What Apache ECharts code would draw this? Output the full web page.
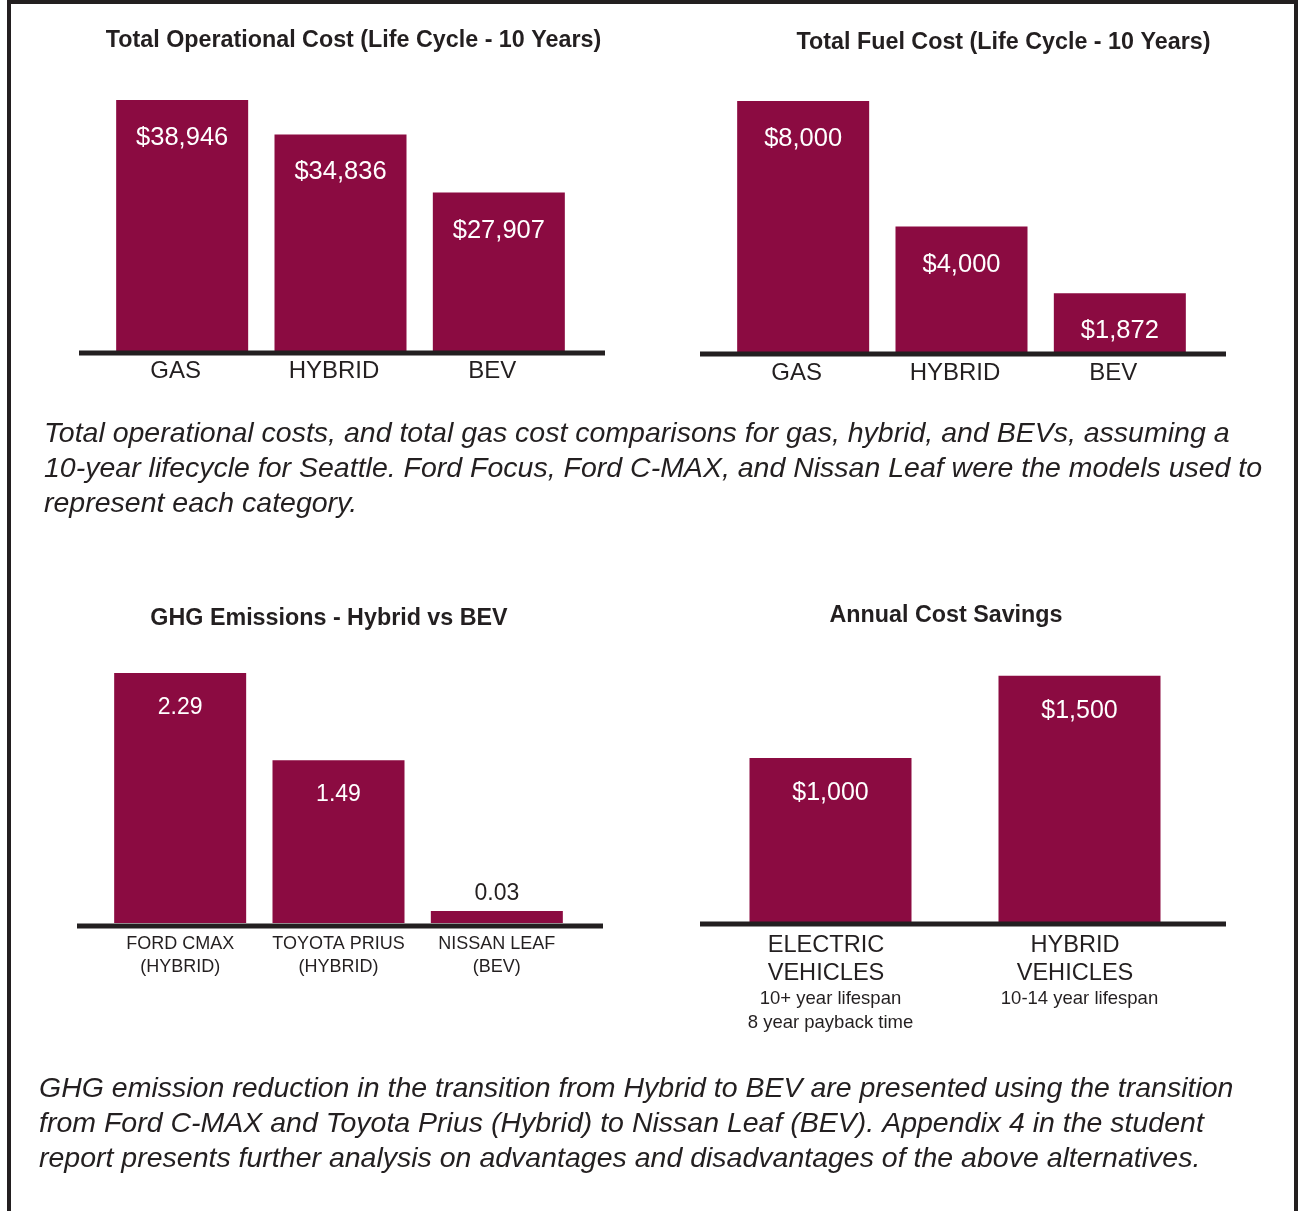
<!DOCTYPE html>
<html>
<head>
<meta charset="utf-8">
<script src="https://cdn.jsdelivr.net/npm/echarts@6/dist/echarts.min.js"></script>
<style>
html,body{margin:0;padding:0;background:#fff;}
#main{width:1299px;height:1211px;}
</style>
</head>
<body>
<div id="main"></div>
<script>
// ---- data ----
const opCategories = ['GAS', 'HYBRID', 'BEV'];
const opValues = [38946, 34836, 27907];

const fuelCategories = ['GAS', 'HYBRID', 'BEV'];
const fuelValues = [8000, 4000, 1872];

const ghgCategories = ['FORD CMAX\n(HYBRID)', 'TOYOTA PRIUS\n(HYBRID)', 'NISSAN LEAF\n(BEV)'];
const ghgValues = [2.29, 1.49, 0.03];

const savingsCategories = ['ELECTRIC\nVEHICLES', 'HYBRID\nVEHICLES'];
const savingsNotes = ['10+ year lifespan\n8 year payback time', '10-14 year lifespan'];
const savingsValues = [1000, 1500];

const titles = [
  'Total Operational Cost (Life Cycle - 10 Years)',
  'Total Fuel Cost (Life Cycle - 10 Years)',
  'GHG Emissions - Hybrid vs BEV',
  'Annual Cost Savings'
];
const caption1 = [
  'Total operational costs, and total gas cost comparisons for gas, hybrid, and BEVs, assuming a',
  '10-year lifecycle for Seattle. Ford Focus, Ford C-MAX, and Nissan Leaf were the models used to',
  'represent each category.'
];
const caption2 = [
  'GHG emission reduction in the transition from Hybrid to BEV are presented using the transition',
  'from Ford C-MAX and Toyota Prius (Hybrid) to Nissan Leaf (BEV). Appendix 4 in the student',
  'report presents further analysis on advantages and disadvantages of the above alternatives.'
];

// ---- style ----
const BAR = '#8b0b41';
const INK = '#231f20';
const FONT = 'Liberation Sans, Arial, Helvetica, sans-serif';

function fmtMoney(v) { return '$' + v.toLocaleString('en-US'); }

const chart = echarts.init(document.getElementById('main'), null, {renderer: 'canvas'});

function titleItem(text, x, y) {
  return {
    text: text, left: x, top: y, padding: 0,
    textAlign: 'center', textVerticalAlign: 'middle',
    textStyle: {fontFamily: FONT, fontWeight: 'bold', fontSize: 23.3, color: INK}
  };
}
function captionItem(lines, x, y) {
  return {
    text: lines.join('\n'), left: x, top: y, padding: 0,
    textAlign: 'left', textVerticalAlign: 'top',
    textStyle: {fontFamily: FONT, fontStyle: 'italic', fontWeight: 'normal', fontSize: 28.5, lineHeight: 35.3, color: INK}
  };
}

function xAxisFor(gridIndex, data, labelExtra) {
  return Object.assign({
    type: 'category', gridIndex: gridIndex, data: data,
    axisLine: {show: false}, axisTick: {show: false}, splitLine: {show: false}
  }, labelExtra);
}
function yAxisFor(gridIndex, min, max) {
  return {type: 'value', gridIndex: gridIndex, min: min, max: max, show: false, splitLine: {show: false}};
}

const option = {
  backgroundColor: '#fff',
  animation: false,
  title: [
    titleItem(titles[0], 353.5, 41),
    titleItem(titles[1], 1003.5, 43),
    titleItem(titles[2], 329, 619),
    titleItem(titles[3], 946, 616),
    captionItem(caption1, 44, 416),
    captionItem(caption2, 39, 1071)
  ],
  grid: [
    {left: 103, top: 80, width: 475, height: 271},
    {left: 724, top: 79, width: 475, height: 273},
    {left: 101, top: 650, width: 475, height: 273},
    {left: 706, top: 643, width: 498, height: 279}
  ],
  xAxis: [
    xAxisFor(0, opCategories, {axisLabel: {margin: 8, padding: [0, 13, 0, 0], fontFamily: FONT, fontSize: 24, color: INK, interval: 0}}),
    xAxisFor(1, fuelCategories, {axisLabel: {margin: 9, padding: [0, 13, 0, 0], fontFamily: FONT, fontSize: 24, color: INK, interval: 0}}),
    xAxisFor(2, ghgCategories, {axisLabel: {margin: 10, fontFamily: FONT, fontSize: 18, lineHeight: 23, color: INK, interval: 0}}),
    xAxisFor(3, savingsCategories, {axisLabel: {
      margin: 9, interval: 0, color: INK, fontFamily: FONT,
      formatter: function (value, index) {
        const main = value.split('\n').map(s => '{a|' + s + '}').join('\n');
        const notes = savingsNotes[index].split('\n').map(s => '{b|' + s + '}').join('\n');
        return main + '\n' + notes;
      },
      rich: {
        a: {fontFamily: FONT, fontSize: 23.6, lineHeight: 28, color: INK, align: 'center', padding: [0, 9, 0, 0]},
        b: {fontFamily: FONT, fontSize: 18.5, lineHeight: 24, color: INK, align: 'center'}
      }
    }})
  ],
  yAxis: [
    yAxisFor(0, 9000, 41330),
    yAxisFor(1, 0, 8700),
    yAxisFor(2, 0, 2.5),
    yAxisFor(3, 0, 1700)
  ],
  series: [
    {
      type: 'bar', xAxisIndex: 0, yAxisIndex: 0, data: opValues, barWidth: 132,
      itemStyle: {color: BAR},
      label: {show: true, position: 'insideTop', distance: 25, color: '#fff', fontFamily: FONT, fontSize: 25.5,
        formatter: p => fmtMoney(p.value)}
    },
    {
      type: 'bar', xAxisIndex: 1, yAxisIndex: 1, data: fuelValues, barWidth: 132,
      itemStyle: {color: BAR},
      label: {show: true, position: 'insideTop', distance: 25, color: '#fff', fontFamily: FONT, fontSize: 25.5,
        formatter: p => fmtMoney(p.value)}
    },
    {
      type: 'bar', xAxisIndex: 2, yAxisIndex: 2, barWidth: 132, barMinHeight: 12,
      itemStyle: {color: BAR},
      data: ghgValues.map(v => v < 0.1
        ? {value: v, label: {position: 'top', distance: 6, color: INK}}
        : {value: v}),
      label: {show: true, position: 'insideTop', distance: 23, color: '#fff', fontFamily: FONT, fontSize: 23,
        formatter: p => p.value.toFixed(2)}
    },
    {
      type: 'bar', xAxisIndex: 3, yAxisIndex: 3, data: savingsValues, barWidth: 162,
      itemStyle: {color: BAR},
      label: {show: true, position: 'insideTop', distance: 23, color: '#fff', fontFamily: FONT, fontSize: 25,
        formatter: p => fmtMoney(p.value)}
    }
  ],
  graphic: [
    // page frame
    {type: 'rect', z: 100, shape: {x: 9, y: 2, width: 1287, height: 1400},
      style: {fill: 'none', stroke: INK, lineWidth: 4}},
    // baselines
    {type: 'line', z: 50, shape: {x1: 79, y1: 353, x2: 605, y2: 353}, style: {stroke: INK, lineWidth: 5}},
    {type: 'line', z: 50, shape: {x1: 700, y1: 354, x2: 1226, y2: 354}, style: {stroke: INK, lineWidth: 5}},
    {type: 'line', z: 50, shape: {x1: 77, y1: 926, x2: 603, y2: 926}, style: {stroke: INK, lineWidth: 5}},
    {type: 'line', z: 50, shape: {x1: 700, y1: 924, x2: 1226, y2: 924}, style: {stroke: INK, lineWidth: 5}}
  ]
};
chart.setOption(option);
</script>
</body>
</html>
